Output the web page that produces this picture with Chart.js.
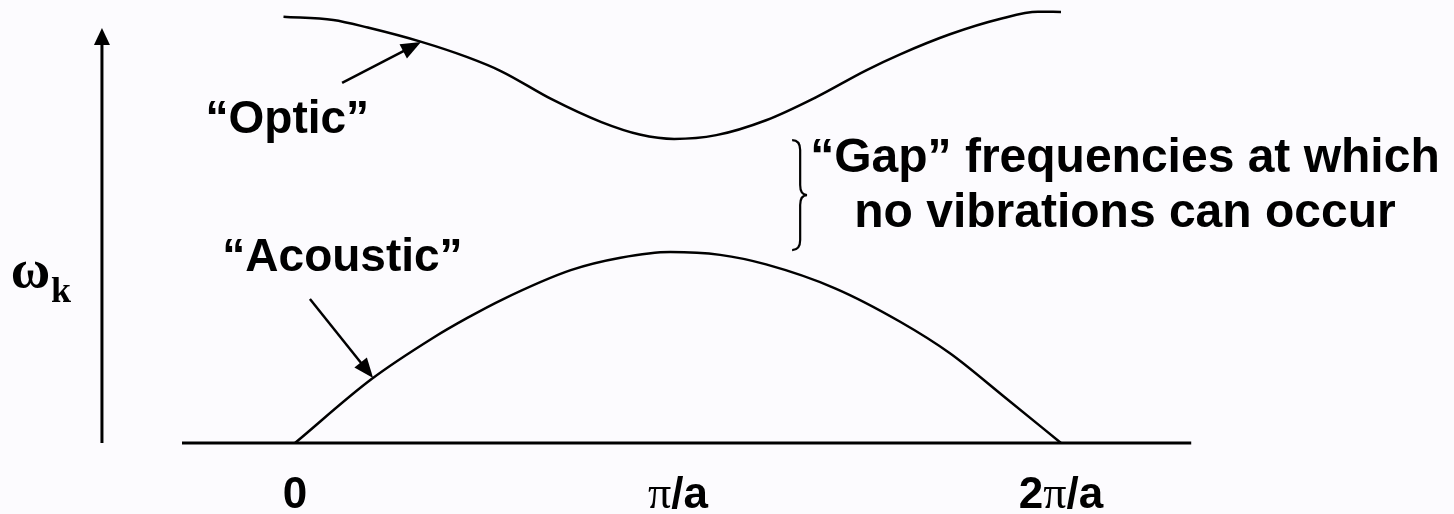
<!DOCTYPE html>
<html>
<head>
<meta charset="utf-8">
<script src="https://cdn.jsdelivr.net/npm/chart.js@4.4.0/dist/chart.umd.min.js"></script>
<style>
  html, body { margin: 0; padding: 0; background: #fcfbfe; }
  #wrap { width: 1454px; height: 514px; }
</style>
</head>
<body>
<div id="wrap"><canvas id="c" width="1454" height="514"></canvas></div>
<script>
// k in units of pi/a, omega in units of the acoustic maximum
const acousticK = [0, 0.20, 0.36, 0.45, 0.54, 0.72, 0.85, 0.98, 1.11, 1.23, 1.41, 1.58, 1.71, 1.85, 2.0];
const acousticW = [0, 0.335, 0.55, 0.655, 0.75, 0.905, 0.97, 1.0, 0.985, 0.935, 0.81, 0.635, 0.47, 0.245, 0];

const opticK = [-0.03, 0.10, 0.19, 0.33, 0.45, 0.54, 0.67, 0.80, 0.90, 0.99, 1.10, 1.23, 1.36, 1.49, 1.58, 1.71, 1.84, 1.94, 2.0];
const opticW = [2.232, 2.215, 2.175, 2.10, 2.02, 1.945, 1.80, 1.68, 1.615, 1.592, 1.612, 1.69, 1.81, 1.95, 2.035, 2.14, 2.22, 2.258, 2.257];

const tickK = [0, 1, 2];
const tickLabels = ['0', 'π/a', '2π/a'];

const gapLines = ['\u201cGap\u201d frequencies at which', 'no vibrations can occur'];

const toPoints = (ks, ws) => ks.map((k, i) => ({ x: k, y: ws[i] }));

const SANS = '"Liberation Sans", Arial, sans-serif';
const SERIF = '"Liberation Serif", "Times New Roman", serif';

function arrow(ctx, x1, y1, x2, y2, len, half) {
  const a = Math.atan2(y2 - y1, x2 - x1);
  ctx.beginPath();
  ctx.moveTo(x1, y1);
  ctx.lineTo(x2 - Math.cos(a) * len * 0.8, y2 - Math.sin(a) * len * 0.8);
  ctx.stroke();
  ctx.beginPath();
  ctx.moveTo(x2, y2);
  ctx.lineTo(x2 - Math.cos(a) * len + Math.sin(a) * half, y2 - Math.sin(a) * len - Math.cos(a) * half);
  ctx.lineTo(x2 - Math.cos(a) * len - Math.sin(a) * half, y2 - Math.sin(a) * len + Math.cos(a) * half);
  ctx.closePath();
  ctx.fill();
}

// tick labels mix a bold sans with a serif pi
function mixedLabel(ctx, text, cx, y) {
  const parts = [];
  for (const ch of text) {
    const font = ch === 'π' ? '46px ' + SERIF : 'bold 44px ' + SANS;
    if (parts.length && parts[parts.length - 1].font === font) parts[parts.length - 1].s += ch;
    else parts.push({ s: ch, font });
  }
  let total = 0;
  parts.forEach(p => { ctx.font = p.font; p.w = ctx.measureText(p.s).width; total += p.w; });
  let x = cx - total / 2;
  ctx.textAlign = 'left';
  parts.forEach(p => { ctx.font = p.font; ctx.fillText(p.s, x, y); x += p.w; });
}

const decor = {
  id: 'decor',
  beforeDraw(chart) {
    const ctx = chart.ctx;
    ctx.save();
    ctx.fillStyle = '#fcfbfe';
    ctx.fillRect(0, 0, chart.width, chart.height);
    ctx.restore();
  },
  afterDatasetsDraw(chart) {
    const ctx = chart.ctx;
    const X = v => chart.scales.x.getPixelForValue(v);
    const Y = v => chart.scales.y.getPixelForValue(v);
    ctx.save();
    ctx.strokeStyle = '#000';
    ctx.fillStyle = '#000';
    ctx.lineCap = 'butt';

    // k axis
    ctx.lineWidth = 3;
    ctx.beginPath();
    ctx.moveTo(X(-0.295), Y(0));
    ctx.lineTo(X(2.34), Y(0));
    ctx.stroke();

    // omega axis with arrow
    ctx.lineWidth = 3;
    arrow(ctx, X(-0.504), Y(0), X(-0.504), Y(2.173), 17, 8);

    // pointer arrows
    ctx.lineWidth = 2.5;
    arrow(ctx, X(0.123), Y(1.885), X(0.329), Y(2.099), 20, 8);
    arrow(ctx, X(0.039), Y(0.754), X(0.204), Y(0.340), 20, 8);

    // brace
    const bl = X(1.298), bm = X(1.319), br = X(1.337);
    const top = Y(1.586), mid = Y(1.298), bot = Y(1.010);
    ctx.lineWidth = 2.2;
    ctx.beginPath();
    ctx.moveTo(bl, top);
    ctx.quadraticCurveTo(bm, top, bm, top + 10);
    ctx.lineTo(bm, mid - 10);
    ctx.quadraticCurveTo(bm, mid, br, mid);
    ctx.quadraticCurveTo(bm, mid, bm, mid + 10);
    ctx.lineTo(bm, bot - 10);
    ctx.quadraticCurveTo(bm, bot, bl, bot);
    ctx.stroke();

    // labels
    ctx.textBaseline = 'alphabetic';
    ctx.textAlign = 'center';
    ctx.font = 'bold 46px ' + SANS;
    ctx.fillText('\u201cOptic\u201d', X(-0.02), Y(1.623));
    ctx.fillText('\u201cAcoustic\u201d', X(0.124), Y(0.901));
    ctx.font = 'bold 48px ' + SANS;
    ctx.fillText(gapLines[0], X(2.167), Y(1.419));
    ctx.fillText(gapLines[1], X(2.167), Y(1.131));

    tickK.forEach((k, i) => mixedLabel(ctx, tickLabels[i], X(k), Y(-0.34)));

    ctx.textAlign = 'left';
    ctx.font = 'bold 54px ' + SERIF;
    ctx.fillText('ω', X(-0.742), Y(0.817));
    ctx.font = 'bold 36px ' + SERIF;
    ctx.fillText('k', X(-0.637), Y(0.738));
    ctx.restore();
  }
};

new Chart(document.getElementById('c'), {
  type: 'scatter',
  data: {
    datasets: [
      {
        label: 'Acoustic',
        data: toPoints(acousticK, acousticW),
        showLine: true,
        borderColor: '#000',
        borderWidth: 2.5,
        pointRadius: 0,
        cubicInterpolationMode: 'monotone',
        fill: false
      },
      {
        label: 'Optic',
        data: toPoints(opticK, opticW),
        showLine: true,
        borderColor: '#000',
        borderWidth: 2.5,
        pointRadius: 0,
        cubicInterpolationMode: 'monotone',
        fill: false
      }
    ]
  },
  options: {
    responsive: false,
    animation: false,
    layout: { padding: 0 },
    plugins: { legend: { display: false }, tooltip: { enabled: false } },
    scales: {
      x: { type: 'linear', min: -0.7702, max: 3.0261, display: false },
      y: { type: 'linear', min: -0.3717, max: 2.3194, display: false }
    }
  },
  plugins: [decor]
});
</script>
</body>
</html>
